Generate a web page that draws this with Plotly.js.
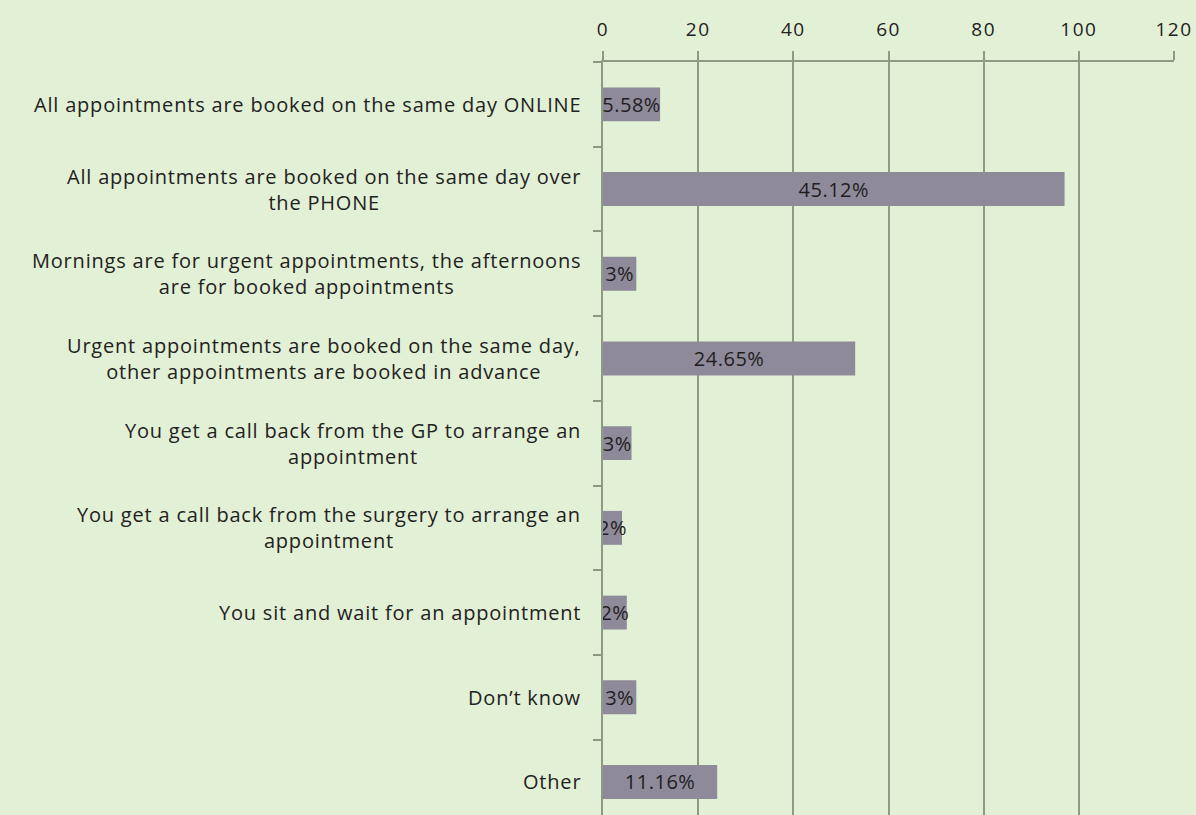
<!DOCTYPE html>
<html>
<head>
<meta charset="utf-8">
<script src="https://cdn.plot.ly/plotly-3.0.1.min.js"></script>
<style>
  html, body { margin: 0; padding: 0; background: #e2f0d5; }
  #grafico { width: 1196px; height: 815px; }
</style>
</head>
<body>
<div id="grafico"></div>
<script>
// categorias de cima para baixo
const categorias = [
    "All appointments are booked on the same day ONLINE",
    "All appointments are booked on the same day over<br>the PHONE",
    "Mornings are for urgent appointments, the afternoons<br>are for booked appointments",
    "Urgent appointments are booked on the same day,<br>other appointments are booked in advance",
    "You get a call back from the GP to arrange an<br>appointment",
    "You get a call back from the surgery to arrange an<br>appointment",
    "You sit and wait for an appointment",
    "Don\u2019t know",
    "Other",
];
const respostas = [12, 97, 7, 53, 6, 4, 5, 7, 24];
const rotulos = ["5.58%", "45.12%", "3%", "24.65%", "3%", "2%", "2%", "3%", "11.16%"];
const ticksX = [0, 20, 40, 60, 80, 100, 120];

const corFundo = "#e2f0d5";
const corGrade = "#8c9a86";
const fonte = "Open Sans, sans-serif";

// espaçamento entre letras parecido com o original
const espacar = (s, px) =>
    s.split("<br>").map((l) => `<span style="letter-spacing:${px}px">${l}</span>`).join("<br>");

// ordem invertida para que o primeiro item fique no topo
const ordemY = [...categorias].reverse();

const trace = {
    type: "bar",
    orientation: "h",
    x: respostas,
    y: categorias,
    text: rotulos.map((r) => espacar(r, 0.5)),
    textposition: "inside",
    insidetextanchor: "middle",
    constraintext: "none",
    textangle: 0,
    insidetextfont: { color: "#1e1e1e", size: 20, family: fonte },
    marker: { color: "#8f8a99" },
    hoverinfo: "x+y",
};

const anotacoes = categorias.map((c) => ({
    x: 0,
    xref: "paper",
    y: c,
    yref: "y",
    text: espacar(c, 0.8),
    showarrow: false,
    xanchor: "right",
    yanchor: "middle",
    align: "center",
    xshift: -20,
    font: { size: 20, color: "#222", family: fonte },
}));

const layout = {
    width: 1196,
    height: 815,
    paper_bgcolor: corFundo,
    plot_bgcolor: corFundo,
    font: { family: fonte, color: "#222", size: 19 },
    margin: { t: 62, r: 22, b: 0, l: 603 },
    bargap: 0.6,
    showlegend: false,
    annotations: anotacoes,
    xaxis: {
        side: "top",
        range: [0, 120],
        tickvals: ticksX,
        ticktext: ticksX.map((v) => espacar(String(v), 1.5)),
        ticks: "outside",
        ticklen: 9,
        tickwidth: 2,
        tickcolor: corGrade,
        ticklabelstandoff: 7,
        showline: true,
        linecolor: corGrade,
        linewidth: 2,
        showgrid: true,
        gridcolor: corGrade,
        gridwidth: 2,
        zeroline: false,
        tickfont: { size: 19, color: "#222", family: fonte },
    },
    yaxis: {
        type: "category",
        categoryorder: "array",
        categoryarray: ordemY,
        range: [-0.39, 8.5],
        showticklabels: false,
        ticks: "outside",
        tickson: "boundaries",
        ticklen: 8,
        tickwidth: 2,
        tickcolor: corGrade,
        showline: true,
        linecolor: corGrade,
        linewidth: 2,
        showgrid: false,
        zeroline: false,
    },
};

Plotly.newPlot("grafico", [trace], layout, { displayModeBar: false });
</script>
</body>
</html>
